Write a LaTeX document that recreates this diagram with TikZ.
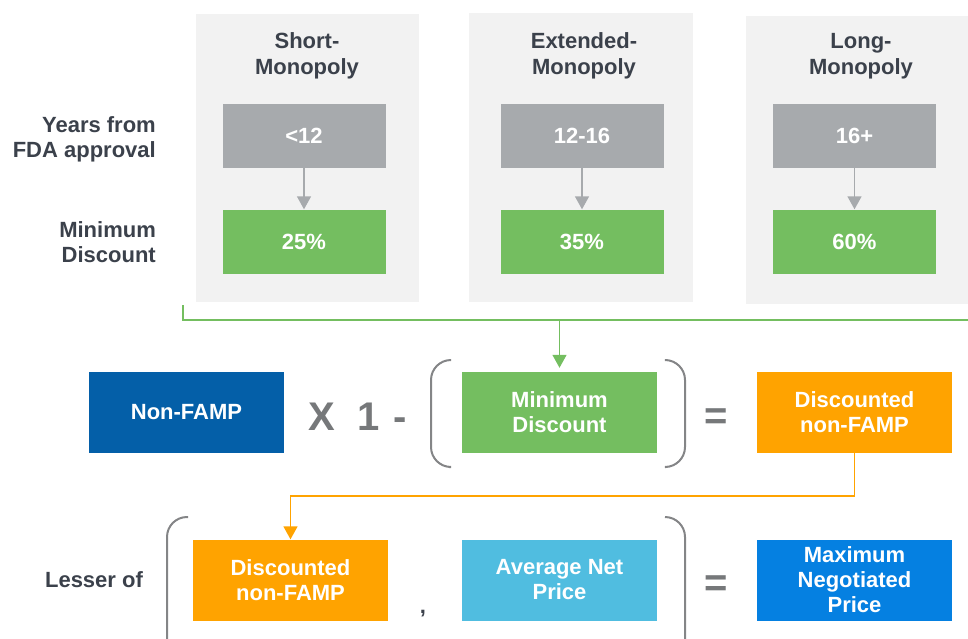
\documentclass[tikz,border=0pt]{standalone}
\usepackage{fontspec}
\setmainfont{Liberation Sans}
\usetikzlibrary{arrows.meta,positioning}

\definecolor{panelgray}{HTML}{F2F2F2}
\definecolor{yeargray}{HTML}{A7AAAD}
\definecolor{discgreen}{HTML}{74BE60}
\definecolor{famporange}{HTML}{FFA300}
\definecolor{fampblue}{HTML}{045FA8}
\definecolor{netblue}{HTML}{50BDE0}
\definecolor{maxblue}{HTML}{0580E1}
\definecolor{labeltext}{HTML}{3B414B}
\definecolor{opgray}{HTML}{76787A}

\begin{document}
\begin{tikzpicture}[x=1pt, y=-1pt,
    panel/.style={fill=panelgray, minimum width=223pt, minimum height=288pt, inner sep=0pt},
    header/.style={text=labeltext, align=center, font=\fontsize{22}{26}\selectfont\bfseries},
    rowlabel/.style={text=labeltext, align=right, anchor=east, inner sep=0pt, font=\fontsize{22}{25}\selectfont\bfseries},
    smallbox/.style={minimum width=163pt, minimum height=64pt, inner sep=0pt, text=white, font=\fontsize{22}{25}\selectfont\bfseries},
    bigbox/.style={minimum width=195pt, minimum height=81pt, inner sep=0pt, text=white, align=center, font=\fontsize{22}{25}\selectfont\bfseries},
    operator/.style={text=opgray, inner sep=0pt, anchor=base, font=\fontsize{40}{40}\selectfont\bfseries},
    paren/.style={draw=opgray!90, line width=2pt, rounded corners=20pt},
    grayarrow/.style={draw=yeargray, line width=1.5pt, -{Triangle[width=14pt, length=13pt]}},
    greenline/.style={draw=discgreen, line width=1.5pt},
    orangeline/.style={draw=famporange, line width=1.5pt}
  ]

    \useasboundingbox (0,0) rectangle (968,639);

    \def\yearY{136}
    \def\discY{241.5}
    \def\rowTwoY{412.5}
    \def\rowThreeY{580}

    % draw monopoly panels
    \node[panel] (p1) at (307.5,158) {};
    \node[panel, minimum width=224pt] (p2) at (581,157.5) {};
    \node[panel, minimum width=240pt] (p3) at (866,160) {};

    \node[header] (h1) at (307,56) {Short-\\Monopoly};
    \node[header] (h2) at (584,56) {Extended-\\Monopoly};
    \node[header] (h3) at (861,56) {Long-\\Monopoly};

    % row labels
    \node[rowlabel] (years) at (156,139) {Years from\\FDA approval};
    \node[rowlabel] (mindisc) at (156,242) {Minimum\\Discount};

    % years and discounts
    \node[smallbox, fill=yeargray] (y1) at (304,\yearY) {<12};
    \node[smallbox, fill=yeargray] (y2) at (582,\yearY) {12-16};
    \node[smallbox, fill=yeargray] (y3) at (854.5,\yearY) {16+};

    \node[smallbox, fill=discgreen] (d1) at (304,\discY) {25\%};
    \node[smallbox, fill=discgreen] (d2) at (582,\discY) {35\%};
    \node[smallbox, fill=discgreen] (d3) at (854.5,\discY) {60\%};

    \draw[grayarrow] (y1) -- (d1);
    \draw[grayarrow] (y2) -- (d2);
    \draw[grayarrow] (y3) -- (d3);

    % first formula
    \node[bigbox, fill=fampblue] (nonfamp) at (186.5,\rowTwoY) {Non-FAMP};
    \node[operator] (times) at (321.5,430) {X};
    \node[operator] (one) at (369,430) {1};
    \node[operator] (minus) at (400,430) {-};
    \node[bigbox, fill=discgreen] (disc) at (559.5,\rowTwoY) {Minimum\\Discount};
    \node[operator] (eqone) at (716,429) {=};
    \node[bigbox, fill=famporange] (dnfamp) at (854.5,\rowTwoY) {Discounted\\non-FAMP};

    \draw[paren] (449,360) -- (431,360) -- (431,467) -- (449,467);
    \draw[paren] (666,360) -- (685,360) -- (685,467) -- (666,467);

    % green bracket under panels
    \coordinate (gstart) at (183,305);
    \coordinate (gend) at (968,320);
    \draw[greenline] (gstart) |- (gend);
    \draw[greenline, -{Triangle[width=14pt, length=13pt]}, shorten >=4pt] (disc.north |- gend) -- (disc.north);

    % second formula
    \node[rowlabel, anchor=center] (lesser) at (94,580) {Lesser of};
    \node[bigbox, fill=famporange] (dnfamptwo) at (290.5,\rowThreeY) {Discounted\\non-FAMP};
    \node[text=labeltext, inner sep=0pt, anchor=base, font=\fontsize{22}{25}\selectfont\bfseries] (comma) at (423,613) {,};
    \node[bigbox, fill=netblue] (anp) at (559.5,\rowThreeY) {Average Net\\Price};
    \node[operator] (eqtwo) at (716,596) {=};
    \node[bigbox, fill=maxblue] (mnp) at (854.5,\rowThreeY) {Maximum\\Negotiated\\Price};

    \draw[paren] (188,517) -- (167,517) -- (167,660);
    \draw[paren] (665,517) -- (685,517) -- (685,660);

    \draw[orangeline, -{Triangle[width=14pt, length=13pt]}] (dnfamp.south) -- ++(0,43) -| (dnfamptwo.north);

\end{tikzpicture}
\end{document}
